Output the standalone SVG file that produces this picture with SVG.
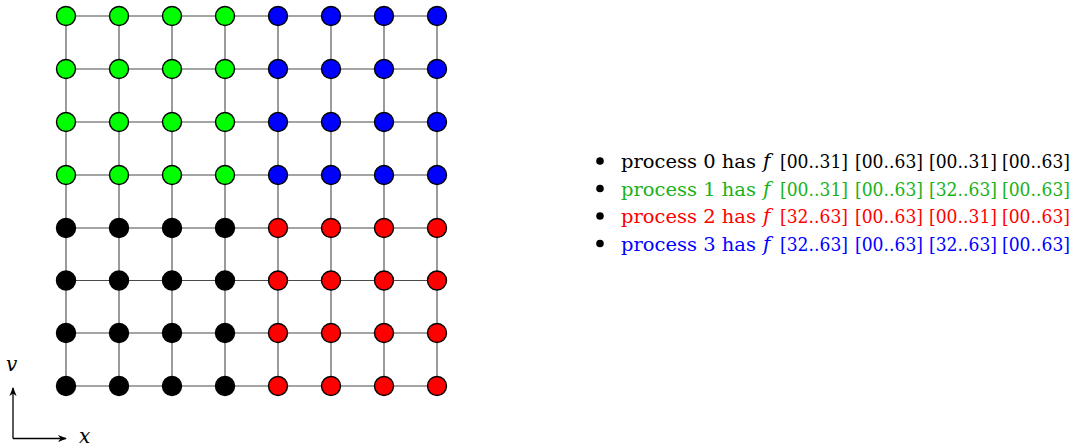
<svg xmlns="http://www.w3.org/2000/svg" width="1078" height="448" viewBox="0 0 1078 448">
<defs>
<marker id="arr" viewBox="0 0 10 10" refX="9" refY="5" markerWidth="9" markerHeight="9" markerUnits="userSpaceOnUse" orient="auto">
<path d="M0,1 L10,5 L0,9 L3,5 Z" fill="#000"/>
</marker>
</defs>
<style>
.g line{stroke:#4a4a4a;stroke-width:1.1}
circle.n{stroke:#000;stroke-width:1.4}
.gr{fill:#00ff00}.bl{fill:#0000ff}.rd{fill:#ff0000}.bk{fill:#000}
text{font-family:"DejaVu Serif","Liberation Serif",serif;font-size:18.5px}
.it{font-style:italic}
.fx{font-size:20px}
.ax{font-size:20px}
.c0{fill:#000}.c1{fill:#1ab21a}.c2{fill:#ff0000}.c3{fill:#0000ff}
</style>
<rect width="1078" height="448" fill="#fff"/>
<g id="connectors" class="g">
<line x1="66" y1="16" x2="437" y2="16"/>
<line x1="66" y1="69" x2="437" y2="69"/>
<line x1="66" y1="122" x2="437" y2="122"/>
<line x1="66" y1="175" x2="437" y2="175"/>
<line x1="66" y1="228" x2="437" y2="228"/>
<line x1="66" y1="280.5" x2="437" y2="280.5"/>
<line x1="66" y1="333" x2="437" y2="333"/>
<line x1="66" y1="386" x2="437" y2="386"/>
<line x1="66" y1="16" x2="66" y2="386"/>
<line x1="119" y1="16" x2="119" y2="386"/>
<line x1="172" y1="16" x2="172" y2="386"/>
<line x1="225" y1="16" x2="225" y2="386"/>
<line x1="278" y1="16" x2="278" y2="386"/>
<line x1="331" y1="16" x2="331" y2="386"/>
<line x1="384" y1="16" x2="384" y2="386"/>
<line x1="437" y1="16" x2="437" y2="386"/>
</g>
<g id="nodes">
<g id="r0"><circle class="n gr" cx="66" cy="16" r="9.5"/><circle class="n gr" cx="119" cy="16" r="9.5"/><circle class="n gr" cx="172" cy="16" r="9.5"/><circle class="n gr" cx="225" cy="16" r="9.5"/><circle class="n bl" cx="278" cy="16" r="9.5"/><circle class="n bl" cx="331" cy="16" r="9.5"/><circle class="n bl" cx="384" cy="16" r="9.5"/><circle class="n bl" cx="437" cy="16" r="9.5"/></g>
<g id="r1"><circle class="n gr" cx="66" cy="69" r="9.5"/><circle class="n gr" cx="119" cy="69" r="9.5"/><circle class="n gr" cx="172" cy="69" r="9.5"/><circle class="n gr" cx="225" cy="69" r="9.5"/><circle class="n bl" cx="278" cy="69" r="9.5"/><circle class="n bl" cx="331" cy="69" r="9.5"/><circle class="n bl" cx="384" cy="69" r="9.5"/><circle class="n bl" cx="437" cy="69" r="9.5"/></g>
<g id="r2"><circle class="n gr" cx="66" cy="122" r="9.5"/><circle class="n gr" cx="119" cy="122" r="9.5"/><circle class="n gr" cx="172" cy="122" r="9.5"/><circle class="n gr" cx="225" cy="122" r="9.5"/><circle class="n bl" cx="278" cy="122" r="9.5"/><circle class="n bl" cx="331" cy="122" r="9.5"/><circle class="n bl" cx="384" cy="122" r="9.5"/><circle class="n bl" cx="437" cy="122" r="9.5"/></g>
<g id="r3"><circle class="n gr" cx="66" cy="175" r="9.5"/><circle class="n gr" cx="119" cy="175" r="9.5"/><circle class="n gr" cx="172" cy="175" r="9.5"/><circle class="n gr" cx="225" cy="175" r="9.5"/><circle class="n bl" cx="278" cy="175" r="9.5"/><circle class="n bl" cx="331" cy="175" r="9.5"/><circle class="n bl" cx="384" cy="175" r="9.5"/><circle class="n bl" cx="437" cy="175" r="9.5"/></g>
<g id="r4"><circle class="n bk" cx="66" cy="228" r="9.5"/><circle class="n bk" cx="119" cy="228" r="9.5"/><circle class="n bk" cx="172" cy="228" r="9.5"/><circle class="n bk" cx="225" cy="228" r="9.5"/><circle class="n rd" cx="278" cy="228" r="9.5"/><circle class="n rd" cx="331" cy="228" r="9.5"/><circle class="n rd" cx="384" cy="228" r="9.5"/><circle class="n rd" cx="437" cy="228" r="9.5"/></g>
<g id="r5"><circle class="n bk" cx="66" cy="280.5" r="9.5"/><circle class="n bk" cx="119" cy="280.5" r="9.5"/><circle class="n bk" cx="172" cy="280.5" r="9.5"/><circle class="n bk" cx="225" cy="280.5" r="9.5"/><circle class="n rd" cx="278" cy="280.5" r="9.5"/><circle class="n rd" cx="331" cy="280.5" r="9.5"/><circle class="n rd" cx="384" cy="280.5" r="9.5"/><circle class="n rd" cx="437" cy="280.5" r="9.5"/></g>
<g id="r6"><circle class="n bk" cx="66" cy="333" r="9.5"/><circle class="n bk" cx="119" cy="333" r="9.5"/><circle class="n bk" cx="172" cy="333" r="9.5"/><circle class="n bk" cx="225" cy="333" r="9.5"/><circle class="n rd" cx="278" cy="333" r="9.5"/><circle class="n rd" cx="331" cy="333" r="9.5"/><circle class="n rd" cx="384" cy="333" r="9.5"/><circle class="n rd" cx="437" cy="333" r="9.5"/></g>
<g id="r7"><circle class="n bk" cx="66" cy="386" r="9.5"/><circle class="n bk" cx="119" cy="386" r="9.5"/><circle class="n bk" cx="172" cy="386" r="9.5"/><circle class="n bk" cx="225" cy="386" r="9.5"/><circle class="n rd" cx="278" cy="386" r="9.5"/><circle class="n rd" cx="331" cy="386" r="9.5"/><circle class="n rd" cx="384" cy="386" r="9.5"/><circle class="n rd" cx="437" cy="386" r="9.5"/></g>
</g>
<g id="axes">
<line x1="13" y1="438.5" x2="13" y2="388" stroke="#000" stroke-width="1.3" marker-end="url(#arr)"/>
<line x1="13" y1="438.5" x2="66" y2="438.5" stroke="#000" stroke-width="1.3" marker-end="url(#arr)"/>
<text class="it ax" x="6" y="371">v</text>
<text class="it ax" x="79" y="443">x</text>
</g>
<g id="legend">
<g id="l0" class="c0"><circle cx="600" cy="161" r="3.8"/><text x="621" y="168" textLength="135" lengthAdjust="spacingAndGlyphs">process 0 has</text><text class="it fx" x="763" y="168">f</text><text x="780" y="168" textLength="68" lengthAdjust="spacingAndGlyphs">[00..31]</text><text x="855" y="168" textLength="68" lengthAdjust="spacingAndGlyphs">[00..63]</text><text x="929" y="168" textLength="68" lengthAdjust="spacingAndGlyphs">[00..31]</text><text x="1002" y="168" textLength="68" lengthAdjust="spacingAndGlyphs">[00..63]</text></g>
<g id="l1" class="c1"><circle cx="600" cy="188.5" r="3.8" fill="#000"/><text x="621" y="195.5" textLength="135" lengthAdjust="spacingAndGlyphs">process 1 has</text><text class="it fx" x="763" y="195.5">f</text><text x="780" y="195.5" textLength="68" lengthAdjust="spacingAndGlyphs">[00..31]</text><text x="855" y="195.5" textLength="68" lengthAdjust="spacingAndGlyphs">[00..63]</text><text x="929" y="195.5" textLength="68" lengthAdjust="spacingAndGlyphs">[32..63]</text><text x="1002" y="195.5" textLength="68" lengthAdjust="spacingAndGlyphs">[00..63]</text></g>
<g id="l2" class="c2"><circle cx="600" cy="216" r="3.8" fill="#000"/><text x="621" y="223" textLength="135" lengthAdjust="spacingAndGlyphs">process 2 has</text><text class="it fx" x="763" y="223">f</text><text x="780" y="223" textLength="68" lengthAdjust="spacingAndGlyphs">[32..63]</text><text x="855" y="223" textLength="68" lengthAdjust="spacingAndGlyphs">[00..63]</text><text x="929" y="223" textLength="68" lengthAdjust="spacingAndGlyphs">[00..31]</text><text x="1002" y="223" textLength="68" lengthAdjust="spacingAndGlyphs">[00..63]</text></g>
<g id="l3" class="c3"><circle cx="600" cy="243.5" r="3.8" fill="#000"/><text x="621" y="250.5" textLength="135" lengthAdjust="spacingAndGlyphs">process 3 has</text><text class="it fx" x="763" y="250.5">f</text><text x="780" y="250.5" textLength="68" lengthAdjust="spacingAndGlyphs">[32..63]</text><text x="855" y="250.5" textLength="68" lengthAdjust="spacingAndGlyphs">[00..63]</text><text x="929" y="250.5" textLength="68" lengthAdjust="spacingAndGlyphs">[32..63]</text><text x="1002" y="250.5" textLength="68" lengthAdjust="spacingAndGlyphs">[00..63]</text></g>
</g>
</svg>
